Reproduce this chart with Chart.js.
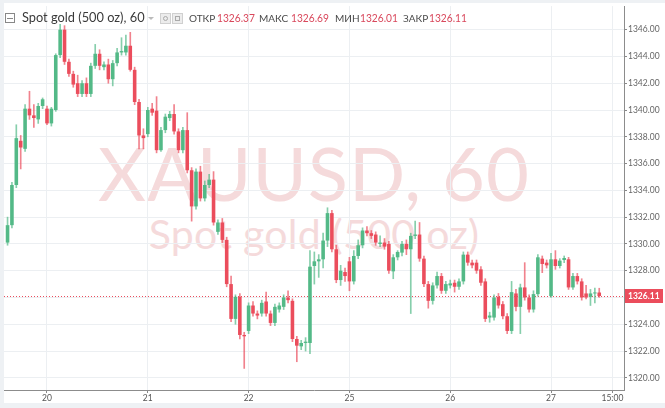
<!DOCTYPE html>
<html><head><meta charset="utf-8">
<script src="https://cdn.jsdelivr.net/npm/chart.js@4.4.1/dist/chart.umd.min.js"></script>
<style>
html,body{margin:0;padding:0;background:#eef1f4;}
#wrap{position:relative;width:665px;height:408px;overflow:hidden;}
#paper{position:absolute;left:4px;top:3px;width:661px;height:400px;background:#fff;}
.wm{position:absolute;left:0;width:628px;text-align:center;font-family:Lato,sans-serif;color:#f5dadb;white-space:nowrap;}
#c{position:absolute;left:0;top:0;}
.lg{position:absolute;white-space:nowrap;font-family:Lato,sans-serif;line-height:1;transform-origin:left center;}
.lab{font-size:10px;color:#4a4a4a;}
.val{font-size:12px;color:#d9485c;transform:scaleX(0.85);}
</style></head><body>
<div id="wrap">
<div id="paper"></div>
<div class="wm" style="top:136px;font-size:74px;line-height:74px;letter-spacing:1px;">XAUUSD, 60</div>
<div class="wm" style="top:213px;font-size:41px;line-height:41px;letter-spacing:0.3px;">Spot gold (500 oz)</div>
<canvas id="c" width="665" height="408"></canvas>
<div id="legend">
  <div style="position:absolute;left:5px;top:13px;width:8px;height:8px;border:1px solid #888;"><div style="position:absolute;left:1px;top:3.5px;width:6px;height:1px;background:#888;"></div></div>
  <div class="lg" style="left:22px;top:11px;font-size:12.8px;color:#3a3a3a;">Spot gold (500 oz), 60</div>
  <div style="position:absolute;left:148px;top:17px;width:0;height:0;border-left:3px solid transparent;border-right:3px solid transparent;border-top:3px solid #bbb;"></div>
  <div style="position:absolute;left:160px;top:13px;width:9px;height:9px;border:1px solid #d0d0d0;background:#ececec;"><div style="position:absolute;left:2px;top:2px;width:3px;height:3px;border:1px solid #aaa;border-radius:50%;"></div></div>
  <div style="position:absolute;left:172px;top:13px;width:9px;height:9px;border:1px solid #d0d0d0;background:#ececec;"><div style="position:absolute;left:2px;top:2px;width:3px;height:3px;border:1px solid #aaa;"></div></div>
  <div class="lg lab" style="left:189px;top:13px;">ОТКР</div>
  <div class="lg val" style="left:217px;top:12px;">1326.37</div>
  <div class="lg lab" style="left:259px;top:13px;">МАКС</div>
  <div class="lg val" style="left:291px;top:12px;">1326.69</div>
  <div class="lg lab" style="left:335px;top:13px;">МИН</div>
  <div class="lg val" style="left:360px;top:12px;">1326.01</div>
  <div class="lg lab" style="left:403px;top:13px;">ЗАКР</div>
  <div class="lg val" style="left:429px;top:12px;">1326.11</div>
</div>
</div>
<script>
const opens = [1330.1,1331.4,1334.4,1337.7,1337.1,1340.1,1339.6,1339.3,1340.3,1340.1,1339.0,1340.0,1344.1,1346.0,1343.6,1342.7,1342.0,1341.2,1342.0,1341.2,1343.3,1344.2,
1343.2,1343.4,1342.3,1343.5,1344.3,1344.3,1344.8,1343.0,1340.6,1338.1,1338.2,1340.1,1339.95,1337.0,1338.5,1339.4,1339.7,1338.4,1337.0,1338.5,1335.5,1332.8,1335.4,1333.4,1334.4,
1334.8,1330.9,1331.6,1330.3,1327.0,1324.4,1326.05,1323.2,1323.5,1325.4,1324.8,1324.8,1325.7,1324.8,1324.1,1325.1,1325.3,1326.0,1325.75,1322.9,1322.35,1322.6,
1322.6,1328.35,1328.7,1328.85,1330.25,1332.3,1329.6,1327.3,1327.9,1328.7,1327.2,1329.1,1329.9,1331.0,1330.8,1330.7,1330.0,1330.1,1330.0,1327.95,1329.0,1329.35,
1330.0,1329.6,1330.6,1330.7,1328.9,1327.0,1325.75,1326.9,1327.6,1326.5,1326.9,1327.1,1326.8,1327.2,1329.2,1328.6,1328.6,1328.1,1327.2,1324.5,1324.5,1326.05,1325.5,
1324.6,1323.5,1326.3,1325.3,1326.75,1326.0,1325.1,1326.25,1328.9,1328.6,1326.1,1328.85,1328.35,1328.8,1328.85,1326.75,1327.6,1327.2,1326.3,1326.05,1326.3,1326.37];
const highs = [1332.0,1334.6,1338.9,1338.1,1340.4,1341.4,1340.4,1340.5,1340.9,1340.3,1340.2,1344.2,1346.4,1346.3,1343.8,1342.9,1342.6,1342.2,1342.4,1343.5,1344.9,1344.5,
1343.6,1343.8,1343.7,1344.6,1345.4,1345.6,1345.8,1343.2,1340.8,1338.6,1340.2,1340.5,1341.0,1338.7,1339.7,1339.9,1340.4,1338.6,1338.7,1339.8,1335.7,1335.6,1335.8,1334.7,1335.2,
1335.4,1331.8,1331.9,1330.5,1327.6,1326.2,1326.3,1323.4,1325.6,1325.7,1325.0,1325.8,1326.4,1325.0,1325.5,1325.6,1326.2,1326.5,1325.9,1323.1,1322.8,1323.0,
1329.5,1329.4,1329.2,1330.8,1332.7,1332.5,1329.9,1328.4,1328.2,1329.0,1329.5,1330.3,1331.2,1331.3,1331.0,1330.9,1330.6,1330.4,1330.2,1329.2,1329.5,1330.2,
1330.3,1330.8,1331.7,1331.6,1329.1,1327.2,1327.1,1327.9,1327.8,1327.2,1327.3,1327.3,1327.4,1329.4,1329.4,1328.8,1328.8,1328.3,1327.4,1324.9,1326.2,1326.3,1325.7,
1324.8,1327.2,1326.6,1327.0,1328.6,1326.2,1326.5,1329.2,1329.1,1328.8,1329.3,1329.5,1328.9,1329.1,1329.0,1327.8,1327.8,1327.4,1326.9,1326.6,1326.7,1326.69];
const lows = [1329.9,1331.2,1334.2,1335.6,1336.9,1339.3,1338.7,1339.0,1340.1,1338.9,1338.8,1339.9,1343.9,1343.4,1342.5,1341.7,1341.0,1341.0,1341.0,1341.0,1343.1,1343.0,
1343.0,1342.0,1341.8,1343.3,1344.1,1344.1,1342.9,1340.4,1337.1,1337.1,1338.0,1339.6,1336.8,1336.9,1338.3,1339.2,1338.2,1336.8,1336.8,1335.3,1331.7,1332.6,1333.2,1333.2,1334.2,
1331.4,1330.7,1330.1,1326.8,1324.2,1324.0,1322.9,1320.7,1323.3,1324.6,1324.4,1324.6,1324.6,1323.9,1323.9,1324.9,1325.1,1325.6,1322.7,1321.2,1322.1,1322.0,
1321.8,1327.0,1327.5,1328.2,1329.8,1329.4,1327.1,1326.9,1327.2,1326.5,1327.0,1328.9,1329.7,1330.6,1330.4,1329.9,1329.8,1329.6,1327.8,1327.4,1328.8,1329.1,
1329.2,1324.8,1330.4,1328.7,1326.8,1325.2,1325.5,1326.7,1326.3,1326.3,1326.7,1326.4,1326.6,1327.0,1328.4,1328.2,1327.8,1326.9,1324.2,1324.15,1324.3,1325.2,1324.4,
1323.3,1323.3,1325.0,1323.3,1325.8,1324.9,1324.9,1326.1,1327.85,1328.2,1326.0,1328.1,1328.2,1328.6,1326.6,1326.6,1327.0,1325.8,1325.9,1325.4,1325.6,1326.01];
const closes = [1331.4,1334.4,1337.9,1337.2,1340.1,1339.6,1339.4,1340.3,1340.8,1339.0,1340.1,1344.1,1346.0,1343.6,1342.7,1341.9,1341.2,1342.0,1341.2,1343.3,1344.2,1343.3,
1343.4,1342.3,1343.5,1344.3,1344.4,1344.8,1343.0,1340.6,1338.1,1337.9,1340.0,1339.8,1337.0,1338.5,1339.5,1339.7,1338.4,1337.0,1338.5,1335.5,1332.8,1335.4,1333.4,1334.4,1334.8,
1331.6,1331.6,1330.3,1327.0,1324.4,1326.05,1323.2,1323.1,1325.4,1324.8,1324.65,1325.6,1324.8,1324.1,1325.3,1325.4,1326.0,1325.8,1322.9,1322.4,1322.6,1322.7,
1328.3,1328.7,1328.85,1330.25,1332.3,1329.6,1327.3,1328.0,1327.6,1327.2,1329.1,1329.9,1331.0,1330.8,1330.6,1330.1,1330.1,1329.8,1328.0,1329.0,1329.4,1330.0,
1329.6,1330.6,1330.7,1328.9,1327.0,1325.75,1326.9,1327.6,1326.5,1327.0,1327.05,1326.8,1327.2,1329.2,1328.6,1328.4,1328.0,1327.1,1324.4,1324.65,1326.0,1325.4,1324.6,
1323.5,1326.4,1325.3,1326.75,1326.0,1325.1,1326.25,1329.0,1328.5,1328.4,1328.85,1328.35,1328.75,1328.95,1326.75,1327.6,1327.2,1326.0,1326.0,1326.3,1326.35,1326.11];
const xTickIndex = [9, 32, 55, 78, 101, 124, 138];
const xTickText = ['20', '21', '22', '25', '26', '27', '15:00'];
const yTicks = [1320,1322,1324,1326,1328,1330,1332,1334,1336,1338,1340,1342,1344,1346];
const lastPrice = 1326.11;

const GREEN = '#53b987', RED = '#eb4d5c';
const GREEN_W = 'rgba(83,185,135,0.7)', RED_W = 'rgba(235,77,92,0.7)';
const idx = opens.map((_, i) => i);
const isUp = i => closes[i] >= opens[i];

const pricePlugin = {
  id: 'price',
  beforeDatasetsDraw(chart) {
    const {ctx, chartArea: a, scales: {y}} = chart;
    const py = Math.round(y.getPixelForValue(lastPrice)) + 0.5;
    ctx.save();
    ctx.strokeStyle = RED; ctx.lineWidth = 1; ctx.setLineDash([1, 2]);
    ctx.beginPath(); ctx.moveTo(a.left, py); ctx.lineTo(a.right, py); ctx.stroke();
    ctx.restore();
  },
  afterDraw(chart) {
    const {ctx, chartArea: a, scales: {y}} = chart;
    const py = Math.round(y.getPixelForValue(lastPrice));
    ctx.save();
    ctx.fillStyle = RED;
    ctx.fillRect(a.right + 1, py - 7, 38, 14);
    ctx.fillStyle = '#fff';
    ctx.font = 'bold 8.5px Lato';
    ctx.textBaseline = 'middle';
    ctx.fillText(lastPrice.toFixed(2), a.right + 4, py + 0.5);
    ctx.restore();
  }
};

new Chart(document.getElementById('c'), {
  type: 'bar',
  data: {
    datasets: [
      {
        label: 'wick',
        data: idx.map(i => ({x: i, y: [lows[i], highs[i]]})),
        backgroundColor: idx.map(i => isUp(i) ? GREEN_W : RED_W),
        barThickness: 1,
        grouped: false,
        order: 2
      },
      {
        label: 'body',
        data: idx.map(i => ({x: i, y: [opens[i], closes[i]]})),
        backgroundColor: idx.map(i => isUp(i) ? GREEN : RED),
        barPercentage: 0.82,
        categoryPercentage: 1,
        minBarLength: 1,
        grouped: false,
        order: 1
      }
    ]
  },
  options: {
    responsive: false,
    animation: false,
    events: [],
    layout: {padding: {left: 4, right: 3, top: 3, bottom: 4}},
    plugins: {legend: {display: false}, tooltip: {enabled: false}},
    scales: {
      x: {
        type: 'linear',
        offset: false,
        min: -0.81,
        max: 140.65,
        position: 'bottom',
        afterBuildTicks(s) { s.ticks = xTickIndex.map(v => ({value: v})); },
        afterFit(s) { s.height = 14; },
        ticks: {
          autoSkip: false, maxRotation: 0, padding: 0,
          color: '#555', font: {family: 'Lato', size: 8.5},
          callback(v) { const k = xTickIndex.indexOf(v); return k >= 0 ? xTickText[k] : ''; }
        },
        grid: {offset: false, color: '#eceff2', tickLength: 3, tickColor: '#888'},
        border: {color: '#8c8c8c', width: 1}
      },
      y: {
        type: 'linear',
        position: 'right',
        min: 1319.09,
        max: 1347.76,
        afterBuildTicks(s) { s.ticks = yTicks.map(v => ({value: v})); },
        afterFit(s) { s.width = 38; },
        ticks: {
          padding: 1, color: '#666', font: {family: 'Lato', size: 8.5},
          callback(v) { return Number(v).toFixed(2); }
        },
        grid: {color: '#eceff2', tickLength: 3, tickColor: '#888'},
        border: {color: '#8c8c8c', width: 1}
      }
    }
  },
  plugins: [pricePlugin]
});
</script>
</body></html>
